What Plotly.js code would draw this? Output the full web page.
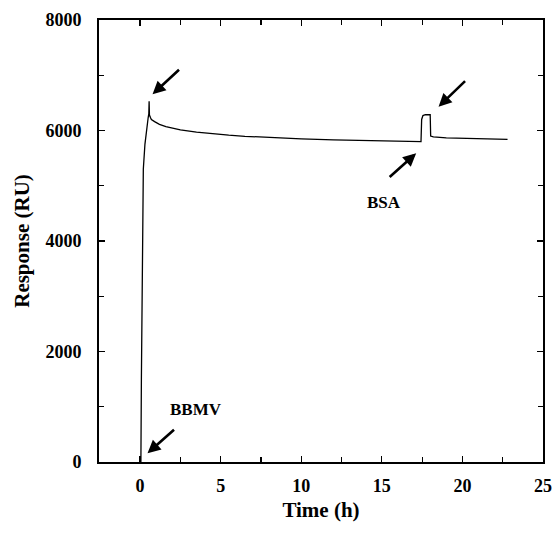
<!DOCTYPE html>
<html>
<head>
<meta charset="utf-8">
<script src="https://cdn.plot.ly/plotly-3.0.1.min.js"></script>
<style>html,body{margin:0;padding:0;background:#fff;}#chart{width:555px;height:533px;}</style>
</head>
<body>
<div id="chart"></div>
<script>
// Time (h)
var timeH = [0, 0.05, 0.08, 0.12, 0.2, 0.3, 0.4, 0.5, 0.54, 0.56, 0.58, 0.65, 0.7, 0.9, 1.2, 1.6, 2.0, 2.5, 3.5, 4.5, 5.5, 6.5, 8, 10, 12, 14, 16, 17.4,
             17.43, 17.47, 17.55, 17.7, 18.0, 18.03, 18.2, 19, 20, 21, 22, 22.8];
// Response (RU)
var response = [0, 0, 1500, 3500, 5300, 5750, 6050, 6230, 6300, 6530, 6280, 6230, 6200, 6160, 6110, 6070, 6040, 6010, 5970, 5940, 5915, 5895, 5870, 5850, 5830, 5815, 5800, 5790,
                5800, 6200, 6270, 6285, 6285, 5900, 5885, 5865, 5855, 5850, 5845, 5840];

var xTicks = [0, 5, 10, 15, 20, 25];
var yTicks = [0, 2000, 4000, 6000, 8000];

// arrow annotations: head position (data) and tail offset (px)
var arrowX = [0.77, 18.52, 17.13, 0.46];
var arrowY = [6655, 6431, 5587, 157];
var arrowAX = [28, 28, -28, 28];
var arrowAY = [-26, -27, 25, -25];

var labelText = ["BSA", "BBMV"];
var labelX = [15.14, 3.49];
var labelY = [4688, 959];

var fontFam = "Liberation Serif, Times New Roman, serif";

var annotations = [];
for (var i = 0; i < arrowX.length; i++) {
  annotations.push({
    x: arrowX[i], y: arrowY[i], xref: 'x', yref: 'y',
    ax: arrowAX[i], ay: arrowAY[i], text: '', showarrow: true,
    arrowhead: 2, arrowsize: 1, arrowwidth: 2.6, arrowcolor: '#000', standoff: 0
  });
}
for (var j = 0; j < labelText.length; j++) {
  annotations.push({
    x: labelX[j], y: labelY[j], xref: 'x', yref: 'y', text: labelText[j],
    showarrow: false, font: {family: fontFam, size: 17, color: '#000', weight: 'bold'}
  });
}

var trace = {
  x: timeH, y: response, type: 'scatter', mode: 'lines',
  line: {color: '#000', width: 1.3}, hoverinfo: 'skip'
};

var axisCommon = {
  showgrid: false, zeroline: false, showline: true, linecolor: '#000', linewidth: 2,
  mirror: 'allticks', ticks: 'inside', ticklen: 6, tickwidth: 1.3, tickcolor: '#000',
  tickfont: {family: fontFam, size: 18, color: '#000', weight: 'bold'}
};

var layout = {
  width: 555, height: 533,
  margin: {l: 99, r: 12, t: 20, b: 71},
  paper_bgcolor: '#fff', plot_bgcolor: '#fff',
  showlegend: false,
  xaxis: Object.assign({}, axisCommon, {
    range: [-2.55, 25], tickvals: xTicks, ticktext: xTicks.map(String),
    minor: {dtick: 2.5, tick0: 0, ticks: 'inside', ticklen: 5, tickwidth: 1.2, tickcolor: '#000'},
    ticklabelstandoff: 6,
    title: {text: 'Time (h)', font: {family: fontFam, size: 21, color: '#000', weight: 'bold'}, standoff: 8}
  }),
  yaxis: Object.assign({}, axisCommon, {
    range: [0, 8000], tickvals: yTicks, ticktext: yTicks.map(String),
    minor: {dtick: 1000, tick0: 0, ticks: 'inside', ticklen: 5, tickwidth: 1.2, tickcolor: '#000'},
    ticklabelstandoff: 12,
    title: {text: 'Response (RU)', font: {family: fontFam, size: 21, color: '#000', weight: 'bold'}, standoff: 10}
  }),
  annotations: annotations
};

Plotly.newPlot('chart', [trace], layout, {staticPlot: true, displayModeBar: false});
</script>
</body>
</html>
